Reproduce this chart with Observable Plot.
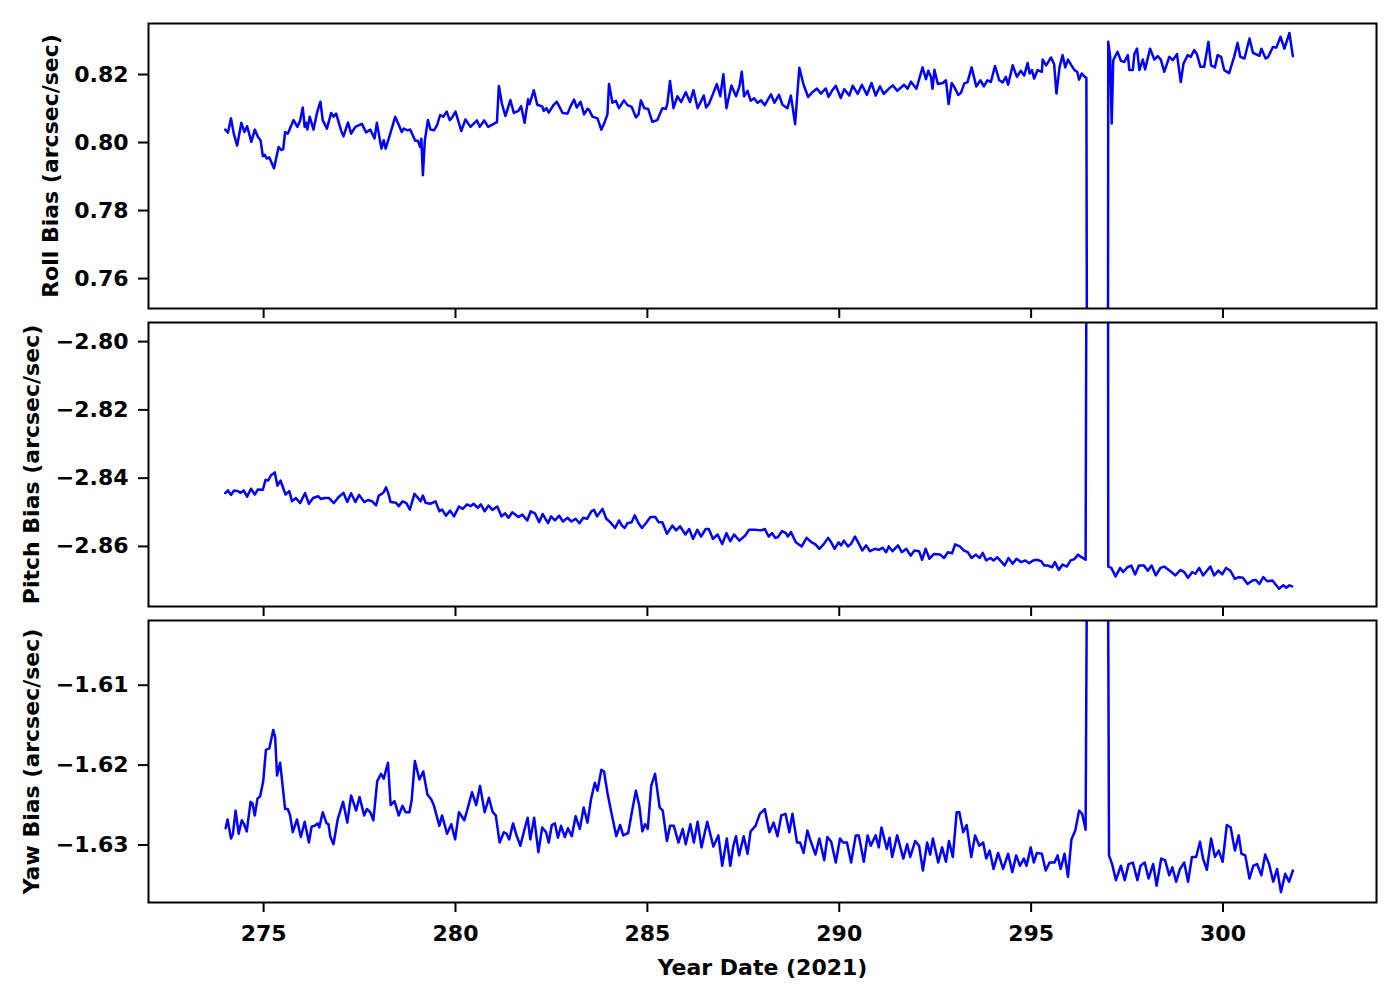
<!DOCTYPE html>
<html><head><meta charset="utf-8">
<script src="https://cdn.jsdelivr.net/npm/d3@7"></script>
<script src="https://cdn.jsdelivr.net/npm/@observablehq/plot@0.6"></script>
<style>
html,body{margin:0;padding:0;background:#fff;}
#chart{position:relative;width:1400px;height:1000px;background:#fff;}
#chart svg{position:absolute;left:0;}
</style></head><body><div id="chart"></div>
<script>
const xDomain = [272, 304];
const xTicks = [275, 280, 285, 290, 295, 300];
const xLabel = "Year Date (2021)";

const rollDomain = [0.7512, 0.835];
const rollTicks = [0.76, 0.78, 0.80, 0.82];
const rollLabel = "Roll Bias (arcsec/sec)";
const rollDays = [274.00,274.07,274.15,274.22,274.31,274.42,274.50,274.57,274.68,274.77,274.85,274.92,274.98,275.03,275.08,275.15,275.27,275.39,275.46,275.51,275.56,275.63,275.78,275.88,275.95,276.02,276.07,276.11,276.14,276.20,276.30,276.39,276.48,276.54,276.65,276.76,276.82,276.89,277.02,277.08,277.20,277.28,277.39,277.56,277.67,277.78,277.89,277.95,278.07,278.13,278.18,278.30,278.43,278.52,278.60,278.65,278.75,278.82,278.95,279.02,279.08,279.11,279.15,279.20,279.28,279.35,279.44,279.52,279.60,279.68,279.77,279.85,279.91,280.00,280.15,280.26,280.39,280.56,280.63,280.75,280.85,281.08,281.13,281.21,281.30,281.43,281.52,281.64,281.71,281.80,281.89,281.93,282.04,282.13,282.26,282.30,282.37,282.43,282.56,282.64,282.79,282.92,283.00,283.09,283.16,283.26,283.35,283.44,283.48,283.57,283.70,283.80,283.87,283.96,284.00,284.09,284.18,284.26,284.39,284.48,284.59,284.70,284.77,284.83,284.92,285.02,285.13,285.26,285.39,285.48,285.52,285.59,285.68,285.78,285.88,286.00,286.11,286.20,286.31,286.47,286.53,286.61,286.72,286.81,286.90,286.98,287.06,287.19,287.31,287.40,287.46,287.52,287.61,287.69,287.78,287.87,287.96,288.06,288.22,288.31,288.43,288.52,288.65,288.74,288.85,288.96,289.07,289.19,289.30,289.42,289.52,289.65,289.72,289.81,289.91,290.04,290.13,290.26,290.35,290.48,290.59,290.72,290.84,290.95,291.06,291.16,291.29,291.40,291.51,291.69,291.78,291.87,292.01,292.17,292.26,292.32,292.39,292.43,292.48,292.57,292.70,292.78,292.85,292.93,293.00,293.10,293.17,293.26,293.34,293.45,293.57,293.68,293.77,293.86,293.95,294.06,294.17,294.26,294.34,294.40,294.52,294.63,294.73,294.82,294.91,294.96,295.02,295.08,295.17,295.28,295.30,295.39,295.52,295.60,295.66,295.74,295.82,295.89,295.96,296.05,296.13,296.20,296.25,296.32,296.40,296.44,296.46,297.00,297.01,297.06,297.10,297.14,297.25,297.34,297.43,297.52,297.56,297.65,297.69,297.76,297.82,297.91,297.97,298.10,298.21,298.30,298.38,298.47,298.60,298.69,298.80,298.90,298.97,299.08,299.16,299.25,299.32,299.41,299.51,299.62,299.69,299.79,299.86,299.95,300.03,300.16,300.29,300.38,300.45,300.56,300.69,300.78,300.95,301.00,301.11,301.18,301.30,301.39,301.50,301.60,301.73,301.82];
const rollValues = [0.8038,0.8029,0.8071,0.8027,0.7991,0.8058,0.8031,0.8048,0.8002,0.8038,0.8017,0.8007,0.7960,0.7964,0.7953,0.7956,0.7924,0.7987,0.7978,0.7980,0.8031,0.8026,0.8066,0.8046,0.8064,0.8103,0.8046,0.8058,0.8038,0.8076,0.8038,0.8087,0.8120,0.8066,0.8041,0.8087,0.8076,0.8085,0.8035,0.8018,0.8059,0.8026,0.8046,0.8055,0.8030,0.8038,0.8012,0.8058,0.7982,0.8007,0.7982,0.8026,0.8076,0.8052,0.8031,0.8041,0.8036,0.8038,0.8005,0.8005,0.7987,0.8011,0.7904,0.8005,0.8066,0.8038,0.8036,0.8051,0.8081,0.8076,0.8091,0.8066,0.8073,0.8091,0.8034,0.8068,0.8046,0.8065,0.8046,0.8065,0.8046,0.8060,0.8166,0.8114,0.8078,0.8125,0.8087,0.8093,0.8107,0.8058,0.8127,0.8113,0.8154,0.8111,0.8106,0.8093,0.8101,0.8088,0.8111,0.8120,0.8087,0.8085,0.8107,0.8126,0.8103,0.8120,0.8083,0.8099,0.8096,0.8076,0.8071,0.8038,0.8055,0.8083,0.8172,0.8117,0.8123,0.8101,0.8124,0.8110,0.8105,0.8074,0.8083,0.8124,0.8101,0.8099,0.8061,0.8066,0.8101,0.8099,0.8114,0.8181,0.8101,0.8136,0.8119,0.8148,0.8119,0.8154,0.8101,0.8138,0.8103,0.8115,0.8146,0.8172,0.8136,0.8201,0.8101,0.8168,0.8136,0.8166,0.8208,0.8136,0.8152,0.8123,0.8130,0.8117,0.8124,0.8110,0.8142,0.8117,0.8140,0.8111,0.8101,0.8138,0.8054,0.8220,0.8170,0.8134,0.8148,0.8159,0.8144,0.8159,0.8134,0.8152,0.8167,0.8131,0.8157,0.8138,0.8167,0.8143,0.8170,0.8140,0.8175,0.8138,0.8165,0.8143,0.8158,0.8168,0.8152,0.8170,0.8158,0.8179,0.8158,0.8221,0.8186,0.8211,0.8193,0.8158,0.8214,0.8172,0.8175,0.8183,0.8113,0.8175,0.8163,0.8140,0.8146,0.8174,0.8177,0.8221,0.8165,0.8183,0.8165,0.8183,0.8178,0.8225,0.8183,0.8177,0.8193,0.8170,0.8227,0.8193,0.8211,0.8197,0.8234,0.8203,0.8213,0.8188,0.8213,0.8208,0.8244,0.8227,0.8250,0.8230,0.8144,0.8221,0.8257,0.8221,0.8244,0.8227,0.8213,0.8208,0.8185,0.8203,0.8193,0.8190,0.70,0.70,0.8296,0.8252,0.8056,0.8242,0.8267,0.8240,0.8237,0.8257,0.8213,0.8213,0.8260,0.8276,0.8213,0.8244,0.8215,0.8276,0.8244,0.8254,0.8244,0.8208,0.8252,0.8242,0.8260,0.8178,0.8232,0.8257,0.8252,0.8272,0.8260,0.8223,0.8223,0.8296,0.8227,0.8221,0.8257,0.8252,0.8213,0.8204,0.8252,0.8293,0.8252,0.8247,0.8306,0.8264,0.8255,0.8276,0.8247,0.8252,0.8281,0.8279,0.8311,0.8276,0.8322,0.8254];

const pitchDomain = [-2.8776, -2.7944];
const pitchTicks = [-2.86, -2.84, -2.82, -2.80];
const pitchLabel = "Pitch Bias (arcsec/sec)";
const pitchDays = [274.00,274.07,274.15,274.23,274.33,274.40,274.48,274.57,274.67,274.77,274.85,274.98,275.05,275.12,275.19,275.29,275.36,275.44,275.57,275.67,275.74,275.84,275.95,276.08,276.18,276.29,276.42,276.49,276.59,276.70,276.83,276.95,277.08,277.18,277.28,277.39,277.49,277.62,277.72,277.83,277.93,278.00,278.08,278.13,278.19,278.24,278.31,278.45,278.52,278.62,278.72,278.81,278.93,279.01,279.09,279.15,279.22,279.34,279.48,279.58,279.65,279.75,279.86,279.96,280.09,280.19,280.30,280.40,280.47,280.58,280.66,280.76,280.86,280.96,281.09,281.20,281.29,281.38,281.48,281.64,281.74,281.87,281.96,282.07,282.18,282.27,282.41,282.49,282.59,282.70,282.80,282.92,283.02,283.13,283.23,283.33,283.43,283.54,283.61,283.69,283.83,283.93,284.03,284.16,284.26,284.34,284.41,284.48,284.59,284.67,284.77,284.86,284.96,285.08,285.21,285.29,285.39,285.51,285.65,285.75,285.85,285.99,286.09,286.19,286.30,286.40,286.52,286.60,286.71,286.83,286.95,287.06,287.16,287.26,287.40,287.55,287.65,287.80,287.96,288.06,288.16,288.25,288.33,288.40,288.51,288.61,288.66,288.74,288.87,289.02,289.15,289.28,289.38,289.48,289.59,289.71,289.79,289.88,289.98,290.05,290.12,290.23,290.31,290.41,290.52,290.60,290.70,290.80,290.93,291.03,291.13,291.22,291.29,291.39,291.53,291.63,291.75,291.86,291.96,292.08,292.16,292.25,292.35,292.47,292.63,292.73,292.83,292.94,293.02,293.14,293.25,293.35,293.45,293.56,293.66,293.74,293.83,293.94,294.02,294.12,294.21,294.31,294.41,294.52,294.62,294.74,294.85,294.95,295.05,295.15,295.26,295.34,295.44,295.55,295.62,295.72,295.82,295.93,296.03,296.13,296.22,296.29,296.42,296.46,297.00,297.01,297.09,297.20,297.32,297.40,297.51,297.61,297.71,297.81,297.94,298.04,298.14,298.25,298.37,298.47,298.61,298.76,298.89,298.99,299.09,299.20,299.28,299.38,299.48,299.67,299.77,299.88,299.98,300.08,300.19,300.31,300.41,300.52,300.64,300.77,300.85,300.95,301.05,301.15,301.29,301.36,301.46,301.57,301.65,301.73,301.80];
const pitchValues = [-2.8444,-2.8436,-2.8449,-2.8436,-2.8438,-2.8443,-2.8436,-2.8454,-2.8431,-2.8448,-2.8433,-2.8434,-2.8405,-2.8407,-2.8392,-2.8383,-2.8422,-2.8407,-2.8448,-2.8438,-2.8468,-2.8458,-2.8473,-2.8444,-2.8475,-2.8458,-2.8453,-2.8461,-2.8458,-2.8458,-2.8473,-2.8456,-2.8443,-2.8470,-2.8444,-2.8470,-2.8449,-2.8470,-2.8464,-2.8468,-2.8480,-2.8451,-2.8446,-2.8441,-2.8427,-2.8441,-2.8470,-2.8472,-2.8482,-2.8468,-2.8473,-2.8492,-2.8446,-2.8456,-2.8468,-2.8451,-2.8472,-2.8475,-2.8468,-2.8497,-2.8492,-2.8510,-2.8495,-2.8512,-2.8483,-2.8490,-2.8477,-2.8482,-2.8475,-2.8487,-2.8477,-2.8497,-2.8480,-2.8493,-2.8483,-2.8512,-2.8503,-2.8516,-2.8500,-2.8514,-2.8507,-2.8524,-2.8497,-2.8503,-2.8529,-2.8505,-2.8532,-2.8512,-2.8524,-2.8510,-2.8527,-2.8516,-2.8527,-2.8519,-2.8532,-2.8516,-2.8519,-2.8497,-2.8493,-2.8512,-2.8490,-2.8519,-2.8529,-2.8546,-2.8524,-2.8539,-2.8546,-2.8532,-2.8529,-2.8509,-2.8532,-2.8546,-2.8532,-2.8514,-2.8514,-2.8529,-2.8529,-2.8563,-2.8539,-2.8553,-2.8541,-2.8565,-2.8549,-2.8578,-2.8551,-2.8571,-2.8549,-2.8549,-2.8578,-2.8565,-2.8593,-2.8561,-2.8585,-2.8565,-2.8583,-2.8568,-2.8551,-2.8551,-2.8553,-2.8549,-2.8571,-2.8561,-2.8575,-2.8573,-2.8555,-2.8561,-2.8571,-2.8558,-2.8588,-2.8600,-2.8575,-2.8588,-2.8594,-2.8607,-2.8594,-2.8575,-2.8588,-2.8607,-2.8588,-2.8597,-2.8583,-2.8600,-2.8592,-2.8571,-2.8594,-2.8612,-2.8597,-2.8614,-2.8607,-2.8610,-2.8604,-2.8617,-2.8600,-2.8614,-2.8597,-2.8617,-2.8607,-2.8627,-2.8612,-2.8614,-2.8639,-2.8607,-2.8636,-2.8622,-2.8624,-2.8634,-2.8617,-2.8620,-2.8594,-2.8600,-2.8612,-2.8617,-2.8634,-2.8624,-2.8634,-2.8619,-2.8641,-2.8634,-2.8641,-2.8632,-2.8643,-2.8656,-2.8634,-2.8651,-2.8636,-2.8646,-2.8641,-2.8649,-2.8641,-2.8639,-2.8643,-2.8656,-2.8656,-2.8661,-2.8646,-2.8669,-2.8653,-2.8659,-2.8641,-2.8637,-2.8624,-2.8630,-2.8639,-2.70,-2.70,-2.8659,-2.8663,-2.8688,-2.8663,-2.8675,-2.8661,-2.8656,-2.8682,-2.8656,-2.8656,-2.8671,-2.8656,-2.8685,-2.8663,-2.8659,-2.8671,-2.8685,-2.8669,-2.8675,-2.8692,-2.8675,-2.8680,-2.8663,-2.8685,-2.8659,-2.8685,-2.8671,-2.8682,-2.8663,-2.8671,-2.8695,-2.8690,-2.8692,-2.8710,-2.8700,-2.8698,-2.8710,-2.8690,-2.8702,-2.8700,-2.8710,-2.8724,-2.8714,-2.8721,-2.8714,-2.8717];

const yawDomain = [-1.6372, -1.6019];
const yawTicks = [-1.63, -1.62, -1.61];
const yawLabel = "Yaw Bias (arcsec/sec)";
const yawDays = [274.01,274.06,274.15,274.20,274.27,274.35,274.43,274.49,274.56,274.66,274.71,274.77,274.84,274.91,274.99,275.06,275.15,275.25,275.30,275.35,275.43,275.56,275.63,275.69,275.76,275.87,275.97,276.07,276.18,276.25,276.33,276.41,276.45,276.54,276.64,276.69,276.74,276.82,276.93,277.07,277.18,277.28,277.41,277.50,277.62,277.69,277.78,277.86,277.96,278.06,278.13,278.24,278.31,278.41,278.52,278.62,278.70,278.80,278.86,278.94,279.06,279.16,279.27,279.37,279.44,279.58,279.65,279.78,279.89,279.99,280.09,280.23,280.33,280.43,280.54,280.64,280.76,280.87,280.97,281.05,281.15,281.26,281.33,281.40,281.50,281.59,281.69,281.80,281.88,281.95,282.05,282.16,282.26,282.36,282.43,282.51,282.59,282.67,282.75,282.85,282.93,283.03,283.13,283.24,283.34,283.44,283.53,283.63,283.70,283.80,283.87,283.96,284.06,284.19,284.29,284.37,284.50,284.58,284.70,284.79,284.87,284.94,285.01,285.10,285.20,285.32,285.40,285.51,285.59,285.69,285.81,285.92,286.00,286.12,286.21,286.31,286.41,286.56,286.72,286.85,286.95,287.07,287.16,287.24,287.31,287.39,287.51,287.61,287.69,287.82,287.93,288.06,288.18,288.29,288.39,288.49,288.60,288.70,288.78,288.90,288.98,289.07,289.17,289.24,289.38,289.48,289.61,289.69,289.79,289.91,290.02,290.10,290.20,290.31,290.43,290.51,290.64,290.74,290.82,290.95,291.03,291.10,291.24,291.31,291.38,291.51,291.67,291.77,291.85,291.98,292.08,292.18,292.29,292.37,292.44,292.58,292.68,292.78,292.86,292.96,293.06,293.13,293.23,293.32,293.44,293.54,293.65,293.75,293.83,293.92,294.02,294.14,294.27,294.40,294.51,294.61,294.71,294.81,294.88,294.99,295.07,295.15,295.28,295.38,295.48,295.61,295.69,295.77,295.87,295.96,296.05,296.15,296.25,296.33,296.42,296.46,297.00,297.03,297.11,297.21,297.34,297.44,297.54,297.65,297.77,297.85,297.96,298.06,298.18,298.27,298.39,298.49,298.60,298.68,298.78,298.88,298.99,299.09,299.19,299.30,299.40,299.48,299.58,299.69,299.79,299.89,299.99,300.10,300.20,300.31,300.41,300.48,300.58,300.69,300.79,300.89,301.00,301.10,301.20,301.31,301.41,301.51,301.62,301.72,301.82];
const yawValues = [-1.6279,-1.6268,-1.6292,-1.6286,-1.6257,-1.6286,-1.6269,-1.6274,-1.6283,-1.6246,-1.6248,-1.6263,-1.6242,-1.6239,-1.6220,-1.6181,-1.6179,-1.6156,-1.6165,-1.6213,-1.6197,-1.6255,-1.6255,-1.6263,-1.6284,-1.6268,-1.6290,-1.6271,-1.6297,-1.6277,-1.6276,-1.6273,-1.6278,-1.6259,-1.6273,-1.6274,-1.6290,-1.6299,-1.6268,-1.6246,-1.6272,-1.6238,-1.6257,-1.6240,-1.6263,-1.6255,-1.6259,-1.6269,-1.6220,-1.6211,-1.6217,-1.6197,-1.6250,-1.6245,-1.6263,-1.6251,-1.6259,-1.6259,-1.6243,-1.6195,-1.6218,-1.6208,-1.6237,-1.6243,-1.6251,-1.6276,-1.6263,-1.6286,-1.6274,-1.6293,-1.6259,-1.6269,-1.6252,-1.6234,-1.6250,-1.6226,-1.6259,-1.6241,-1.6259,-1.6263,-1.6297,-1.6284,-1.6286,-1.6293,-1.6273,-1.6288,-1.6301,-1.6280,-1.6266,-1.6293,-1.6266,-1.6309,-1.6278,-1.6284,-1.6297,-1.6275,-1.6273,-1.6291,-1.6276,-1.6290,-1.6279,-1.6289,-1.6264,-1.6280,-1.6253,-1.6272,-1.6243,-1.6222,-1.6232,-1.6206,-1.6208,-1.6235,-1.6259,-1.6289,-1.6275,-1.6288,-1.6285,-1.6263,-1.6232,-1.6251,-1.6283,-1.6274,-1.6280,-1.6226,-1.6211,-1.6253,-1.6257,-1.6295,-1.6276,-1.6276,-1.6297,-1.6280,-1.6299,-1.6274,-1.6297,-1.6271,-1.6303,-1.6271,-1.6302,-1.6288,-1.6326,-1.6292,-1.6326,-1.6301,-1.6289,-1.6313,-1.6289,-1.6311,-1.6283,-1.6276,-1.6261,-1.6255,-1.6284,-1.6272,-1.6289,-1.6263,-1.6261,-1.6284,-1.6261,-1.6297,-1.6297,-1.6310,-1.6282,-1.6293,-1.6312,-1.6292,-1.6319,-1.6290,-1.6296,-1.6322,-1.6292,-1.6297,-1.6297,-1.6322,-1.6288,-1.6288,-1.6321,-1.6288,-1.6301,-1.6288,-1.6303,-1.6278,-1.6305,-1.6291,-1.6315,-1.6288,-1.6317,-1.6299,-1.6315,-1.6295,-1.6301,-1.6332,-1.6297,-1.6312,-1.6292,-1.6322,-1.6303,-1.6321,-1.6295,-1.6315,-1.6259,-1.6259,-1.6284,-1.6275,-1.6315,-1.6288,-1.6301,-1.6297,-1.6317,-1.6307,-1.6330,-1.6310,-1.6330,-1.6311,-1.6334,-1.6313,-1.6326,-1.6317,-1.6326,-1.6303,-1.6322,-1.6310,-1.6311,-1.6332,-1.6322,-1.6322,-1.6313,-1.6330,-1.6311,-1.6340,-1.6293,-1.6282,-1.6257,-1.6261,-1.6281,-1.59,-1.59,-1.6313,-1.6324,-1.6344,-1.6326,-1.6344,-1.6324,-1.6322,-1.6344,-1.6326,-1.6322,-1.6342,-1.6324,-1.6351,-1.6317,-1.6319,-1.6338,-1.6328,-1.6346,-1.6330,-1.6322,-1.6346,-1.6315,-1.6315,-1.6296,-1.6317,-1.6331,-1.6292,-1.6315,-1.6307,-1.6321,-1.6275,-1.6278,-1.6307,-1.6288,-1.6311,-1.6313,-1.6342,-1.6326,-1.6324,-1.6338,-1.6312,-1.6324,-1.6346,-1.6330,-1.6359,-1.6336,-1.6346,-1.6332];

const FONT = "DejaVu Sans, Liberation Sans, sans-serif";
const FS = 22;
const fmt = d3.format(".2f");

function panel(o) {
  const data = o.days.map((d, i) => ({d, v: o.values[i]}));
  const marks = [
    Plot.line(data, {x: "d", y: "v", stroke: "#0000ff", strokeWidth: 2.5, clip: true}),
    Plot.frame({stroke: "black", strokeWidth: 2}),
    Plot.axisY(o.ticks, {tickSize: 10, tickPadding: 10, strokeWidth: 2, tickFormat: fmt, label: null, fontSize: FS, fontWeight: "bold"}),
    Plot.axisX(xTicks, {tickSize: 10, tickPadding: 13, strokeWidth: 2, tickFormat: o.showX ? (d => String(d)) : (() => ""), label: null, fontSize: FS, fontWeight: "bold"}),
    Plot.text([o.label], {frameAnchor: "left", rotate: -90, dx: o.labelDx, textAnchor: "middle", lineAnchor: "middle", fontWeight: "bold", fontSize: FS, fill: "black"})
  ];
  if (o.showX) {
    marks.push(Plot.text([xLabel], {frameAnchor: "bottom", dy: 65, textAnchor: "middle", lineAnchor: "middle", fontWeight: "bold", fontSize: FS, fill: "black"}));
  }
  const svg = Plot.plot({
    width: 1400, height: o.height,
    marginLeft: 148, marginRight: 24, marginTop: o.mt, marginBottom: o.mb,
    style: {fontFamily: FONT, fontSize: FS + "px", fontWeight: "bold", color: "black", background: "transparent", overflow: "visible"},
    x: {domain: xDomain},
    y: {domain: o.domain},
    marks
  });
  svg.style.top = o.top + "px";
  document.getElementById("chart").appendChild(svg);
}

panel({days: rollDays, values: rollValues, domain: rollDomain, ticks: rollTicks, label: rollLabel, labelDx: -98, top: 0, height: 330, mt: 23, mb: 22, showX: false});
panel({days: pitchDays, values: pitchValues, domain: pitchDomain, ticks: pitchTicks, label: pitchLabel, labelDx: -117, top: 300, height: 330, mt: 22, mb: 24, showX: false});
panel({days: yawDays, values: yawValues, domain: yawDomain, ticks: yawTicks, label: yawLabel, labelDx: -117, top: 598, height: 402, mt: 22, mb: 98, showX: true});
</script></body></html>
